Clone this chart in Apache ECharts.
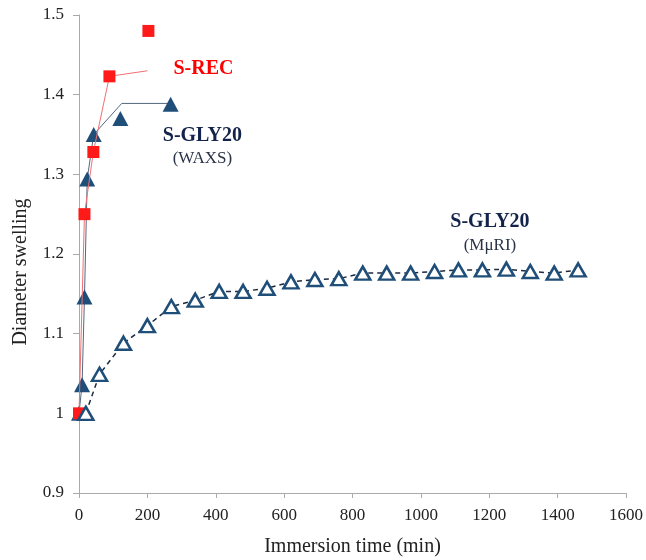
<!DOCTYPE html>
<html>
<head>
<meta charset="utf-8">
<script src="https://cdn.jsdelivr.net/npm/echarts@6/dist/echarts.min.js"></script>
<style>
    html, body { margin: 0; padding: 0; background: #fff; }
    #chart { width: 646px; height: 560px; }
</style>
</head>
<body>
<div id="chart"></div>
<script>
    // S-REC (red squares)
    const recTime = [0, 16, 42, 89, 203];
    const recSwell = [1.0, 1.25, 1.328, 1.423, 1.48];
    const recJoined = 4; // the last square is not on the line
    const recLeaderTime = [89, 200];
    const recLeaderSwell = [1.423, 1.43];

    // S-GLY20 WAXS (filled triangles)
    const waxsTime = [0, 9, 16, 24, 43, 121, 268];
    const waxsSwell = [1.0, 1.036, 1.146, 1.294, 1.35, 1.37, 1.388];
    const waxsJoined = 5;
    const waxsLeaderTime = [43, 125, 268];
    const waxsLeaderSwell = [1.35, 1.389, 1.389];

    // S-GLY20 MuRI (open triangles)
    const muriTime = [20, 60, 130, 200, 270, 340, 410, 480, 550, 620, 690, 760, 830, 900, 970, 1040, 1110, 1180, 1250, 1320, 1390, 1460];
    const muriSwell = [1.0, 1.049, 1.088, 1.110, 1.134, 1.142, 1.153, 1.153, 1.157, 1.165, 1.168, 1.169, 1.176, 1.176, 1.176, 1.178, 1.180, 1.180, 1.181, 1.178, 1.176, 1.180];

    // annotation texts, placed in data units
    const noteText = ['S-REC', 'S-GLY20', '(WAXS)', 'S-GLY20', '(MμRI)'];
    const noteTime = [364, 361, 361, 1202, 1202];
    const noteSwell = [1.432, 1.348, 1.320, 1.240, 1.211];
    const noteStyle = ['rec', 'gly', 'sub', 'gly', 'sub'];

    const pairs = (xs, ys) => xs.map((x, i) => [x, ys[i]]);

    const font = '"Liberation Serif", "Times New Roman", serif';
    const navy = '#1f4e79';

    const myChart = echarts.init(document.getElementById('chart'));
    const option = {
        backgroundColor: '#fff',
        animation: false,
        textStyle: { fontFamily: font },
        grid: { left: 79, right: 20, top: 15, bottom: 67, containLabel: false, outerBoundsMode: 'none' },
        xAxis: {
            type: 'value',
            min: 0,
            max: 1600,
            interval: 200,
            name: 'Immersion time (min)',
            nameLocation: 'middle',
            nameGap: 44,
            nameTextStyle: { fontFamily: font, fontSize: 20, color: '#222' },
            splitLine: { show: false },
            axisLine: { lineStyle: { color: '#aaa' } },
            axisTick: { length: 5, lineStyle: { color: '#aaa' } },
            axisLabel: { margin: 14, fontFamily: font, fontSize: 17, color: '#222', formatter: v => String(v) }
        },
        yAxis: {
            type: 'value',
            min: 0.9,
            max: 1.5,
            interval: 0.1,
            name: 'Diameter swelling',
            nameLocation: 'middle',
            nameGap: 48,
            nameTextStyle: { fontFamily: font, fontSize: 20, color: '#222', padding: [0, 36, 0, 0] },
            splitLine: { show: false },
            axisLine: { show: true, lineStyle: { color: '#aaa' } },
            axisTick: { show: true, length: 6, lineStyle: { color: '#aaa' } },
            axisLabel: { margin: 15, fontFamily: font, fontSize: 17, color: '#222' }
        },
        series: [
            {
                type: 'line',
                data: pairs(waxsLeaderTime, waxsLeaderSwell),
                symbol: 'none',
                lineStyle: { color: '#55677f', width: 1 },
                z: 1
            },
            {
                type: 'line',
                data: pairs(recLeaderTime, recLeaderSwell),
                symbol: 'none',
                lineStyle: { color: '#f07070', width: 1 },
                z: 1
            },
            {
                name: 'S-GLY20 WAXS',
                type: 'line',
                data: pairs(waxsTime, waxsSwell).slice(0, waxsJoined),
                symbol: 'triangle',
                symbolSize: [16, 15],
                itemStyle: { color: navy },
                lineStyle: { color: '#55677f', width: 1 },
                z: 2
            },
            {
                type: 'scatter',
                data: pairs(waxsTime, waxsSwell).slice(waxsJoined),
                symbol: 'triangle',
                symbolSize: [16, 15],
                itemStyle: { color: navy, opacity: 1 },
                z: 2
            },
            {
                name: 'S-REC',
                type: 'line',
                data: pairs(recTime, recSwell).slice(0, recJoined),
                symbol: 'rect',
                symbolSize: 12,
                itemStyle: { color: '#ff1a1a' },
                lineStyle: { color: '#f07070', width: 1 },
                z: 3
            },
            {
                type: 'scatter',
                data: pairs(recTime, recSwell).slice(recJoined),
                symbol: 'rect',
                symbolSize: 12,
                itemStyle: { color: '#ff1a1a', opacity: 1 },
                z: 3
            },
            {
                name: 'S-GLY20 MuRI',
                type: 'line',
                data: pairs(muriTime, muriSwell),
                symbol: 'triangle',
                symbolSize: [15, 13],
                showAllSymbol: true,
                itemStyle: { color: '#fff', borderColor: navy, borderWidth: 2.5 },
                lineStyle: { color: '#1c2a40', width: 1.5, type: [5, 4] },
                z: 4
            },
            {
                type: 'scatter',
                symbolSize: 0,
                silent: true,
                itemStyle: { opacity: 1 },
                data: noteText.map((t, i) => ({
                    value: [noteTime[i], noteSwell[i]],
                    label: {
                        show: true,
                        position: 'inside',
                        formatter: '{' + noteStyle[i] + '|' + t + '}'
                    }
                })),
                label: {
                    textBorderWidth: 0,
                    opacity: 1,
                    rich: {
                        rec: { fontFamily: font, fontSize: 20, fontWeight: 'bold', color: '#ff0000', textBorderWidth: 0 },
                        gly: { fontFamily: font, fontSize: 20, fontWeight: 'bold', color: '#14234a', textBorderWidth: 0 },
                        sub: { fontFamily: font, fontSize: 17, color: '#2a3448', textBorderWidth: 0 }
                    }
                },
                z: 5
            }
        ]
    };
    myChart.setOption(option);
</script>
</body>
</html>
